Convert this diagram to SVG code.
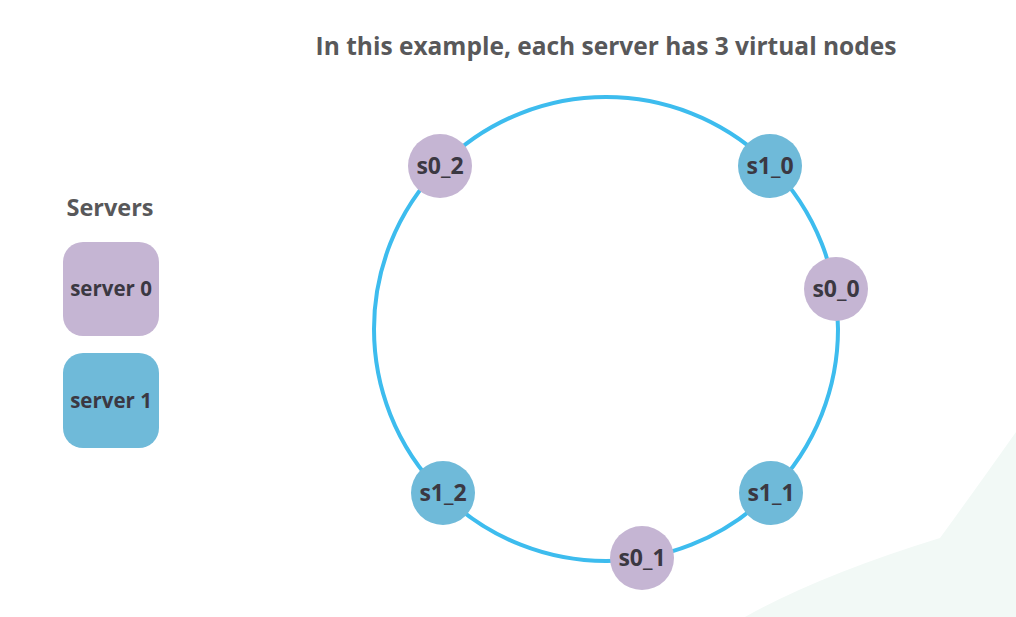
<svg xmlns="http://www.w3.org/2000/svg" width="1016" height="617" viewBox="0 0 1016 617">
<style>
.t{font-family:"Open Sans","Liberation Sans",sans-serif;font-weight:700;text-anchor:middle}
.title{font-size:24.5px;fill:#58585a}
.lbl{font-size:23px;fill:#3b3842}
.srv{font-size:20.5px;fill:#3b3842}
.p{fill:#c5b5d3}
.b{fill:#6fbad9}
</style>
<rect width="1016" height="617" fill="#ffffff"/>
<path d="M745 617 Q820 575 940 538 Q975 490 1016 432 L1016 617 Z" fill="#f2f9f6"/>
<text class="t title" x="606" y="55">In this example, each server has 3 virtual nodes</text>
<g id="legend">
<text class="t title" x="110" y="216" style="font-size:23.5px">Servers</text>
</g>
<g id="server0"><rect class="p" x="63" y="242" width="96" height="94" rx="20"/><text class="t srv" x="111" y="296">server 0</text></g>
<g id="server1"><rect class="b" x="63" y="353" width="96" height="95" rx="20"/><text class="t srv" x="111" y="408">server 1</text></g>
<g id="connectors"><circle cx="606" cy="329" r="232" fill="none" stroke="#3dbcee" stroke-width="4"/></g>
<g id="s0_2"><circle class="p" cx="440" cy="166" r="32"/><text class="t lbl" x="440" y="174">s0_2</text></g>
<g id="s1_0"><circle class="b" cx="770" cy="166" r="32"/><text class="t lbl" x="770" y="174">s1_0</text></g>
<g id="s0_0"><circle class="p" cx="836" cy="289" r="32"/><text class="t lbl" x="836" y="297">s0_0</text></g>
<g id="s1_1"><circle class="b" cx="771" cy="493" r="32"/><text class="t lbl" x="771" y="501">s1_1</text></g>
<g id="s0_1"><circle class="p" cx="642" cy="558" r="32"/><text class="t lbl" x="642" y="566">s0_1</text></g>
<g id="s1_2"><circle class="b" cx="443" cy="493" r="32"/><text class="t lbl" x="443" y="501">s1_2</text></g>
</svg>
